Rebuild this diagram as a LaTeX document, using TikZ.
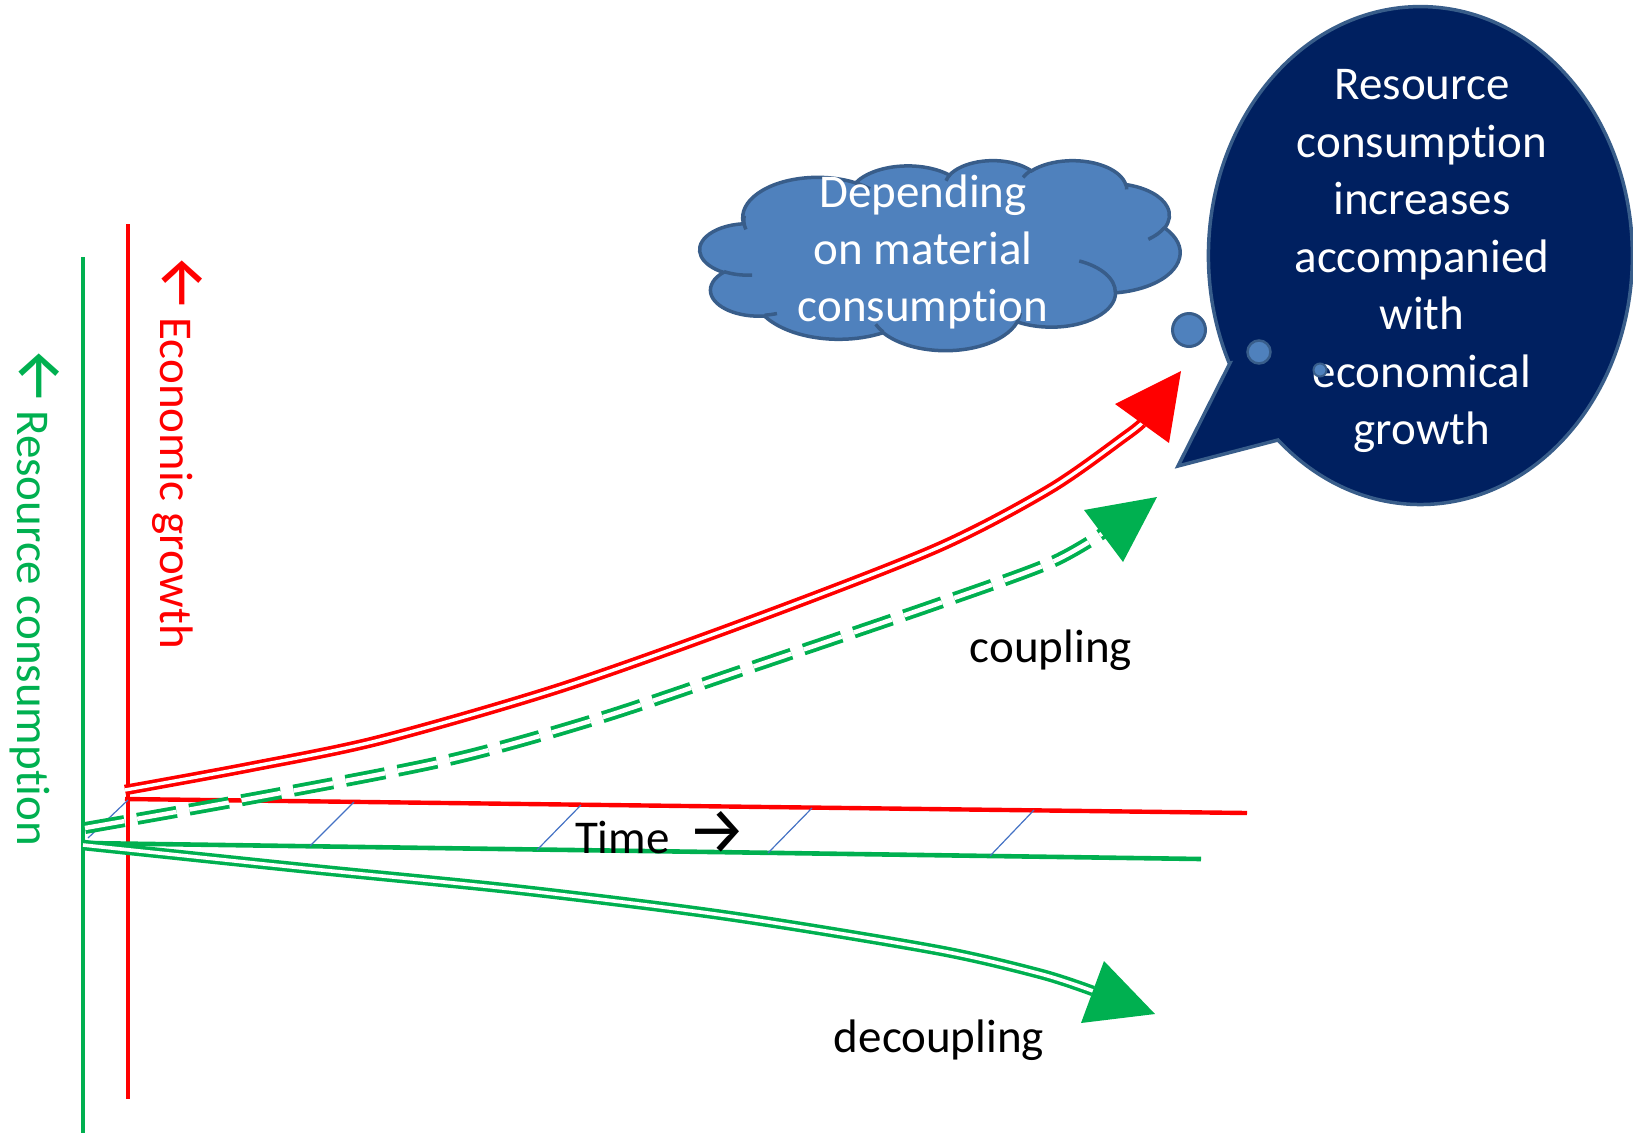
\documentclass[tikz,border=0pt]{standalone}
\usepackage{fontspec}
\setmainfont{Carlito}[Ligatures=NoCommon]
\newfontfamily\arrowfont{Fira Sans}
\definecolor{pptred}{HTML}{FF0000}
\definecolor{pptgreen}{HTML}{00B050}
\definecolor{hatchblue}{HTML}{4472C4}
\definecolor{cloudfill}{HTML}{4F81BD}
\definecolor{cloudline}{HTML}{385D8A}
\definecolor{navyfill}{HTML}{002060}

% Elliptical arc from the current point, given x/y radii and the
% visual start and sweep angles (degrees); converted to parametric angles.
\newcommand\ooarc[4]{%
  \pgfextra{%
    \pgfmathsetmacro\oaS{atan2((#1)*sin(#3),(#2)*cos(#3))}%
    \pgfmathsetmacro\oaT{atan2((#1)*sin((#3)+(#4)),(#2)*cos((#3)+(#4)))}%
    \pgfmathsetmacro\oaC{(\oaT)-(\oaS)-(#4)}%
    \pgfmathsetmacro\oaC{(\oaC)-360*round((\oaC)/360)}%
    \pgfmathsetmacro\oaE{(\oaS)+(#4)+(\oaC)}%
  }%
  arc[start angle=\oaS, end angle=\oaE, x radius=#1, y radius=#2]%
}
% arrow glyph, set a little larger than the words around it
\newcommand\bigarrow[1]{{\arrowfont\fontsize{66}{56}\selectfont #1}}

\begin{document}
\begin{tikzpicture}[x=1pt,y=-1pt,
  every node/.style={inner sep=0pt, outer sep=0pt},
  bigtext/.style={font=\fontsize{47}{56}\selectfont},
  axisline/.style={line width=4.2pt},
  hatch/.style={draw=hatchblue, line width=1.2pt},
  twin/.style={line width=3.6pt, double=white, double distance=3.4pt},
  cloudedge/.style={draw=cloudline, line width=3.5pt},
  thought/.style={circle, fill=cloudfill, draw=cloudline},
]
\useasboundingbox (0,0) rectangle (1633,1133);

% ---- axes ----
\coordinate (gtop) at (83,257);   \coordinate (gbot) at (83,1133);
\coordinate (rtop) at (128,224);  \coordinate (rbot) at (128,1099);
\coordinate (rh0) at (125,799);   \coordinate (rh1) at (1247,813);
\coordinate (gh0) at (83,843);    \coordinate (gh1) at (1201,859);

\draw[pptgreen, axisline] (gtop) -- (gbot);
\draw[pptred, axisline] (rtop) -- (rbot);
\draw[pptred, line width=4.4pt] (rh0) -- (rh1);
\draw[pptgreen, line width=4.6pt] (gh0) -- (gh1);

% thin ties between the two time lines
\foreach \xa/\ya/\xb/\yb in {88/838/128/800, 310/846/354/802, 537/850/581/805,
                             768/853/812/808, 990/856/1034/810}
  \draw[hatch] (\xa,\ya) -- (\xb,\yb);

% ---- trajectories ----
\coordinate (redstart) at (125,790);
\coordinate (redend) at (1142,423);
\coordinate (cplstart) at (85,828);
\coordinate (cplend) at (1103,533);
\coordinate (decstart) at (83,845);
\coordinate (decend) at (1093,991);

\draw[pptred, twin] plot[smooth, tension=0.5] coordinates
  {(redstart) (250,767) (380,740) (560,688) (752,620) (937,548)
   (1050,489) (1127,435) (redend)};

\draw[pptgreen, line width=3.8pt, double=white, double distance=4.4pt,
      dash pattern=on 40pt off 13pt] plot[smooth, tension=0.5] coordinates
  {(cplstart) (270,795) (453,759) (600,718) (752,667) (937,604)
   (1050,563) (cplend)};

\draw[pptgreen, line width=3.5pt, double=white, double distance=3.6pt]
  plot[smooth, tension=0.5] coordinates
  {(decstart) (312,869) (521,890) (729,916) (937,950) (1041,974) (decend)};

% arrow heads
\coordinate (redtip) at (1181,371); \coordinate (redl) at (1115,404); \coordinate (redr) at (1169,443);
\fill[pptred] (redtip) -- (redl) -- (redr) -- cycle;
\coordinate (cpltip) at (1157,497); \coordinate (cpll) at (1084,510); \coordinate (cplr) at (1123,562);
\fill[pptgreen] (cpltip) -- (cpll) -- (cplr) -- cycle;
\coordinate (dectip) at (1155,1014); \coordinate (decl) at (1104,961); \coordinate (decr) at (1081,1023);
\fill[pptgreen] (dectip) -- (decl) -- (decr) -- cycle;

% ---- labels ----
\node[bigtext, text=pptred, rotate=-90, anchor=base west] (econlbl) at (160,253)
  {\bigarrow{←}\hspace{5pt}Economic growth};
\node[bigtext, text=pptgreen, rotate=-90, anchor=base west] (reslbl) at (17,346)
  {\bigarrow{←}\hspace{5pt}Resource consumption};
\node[bigtext, anchor=base west] (timelbl) at (575,853)
  {Time\hspace{18pt}\bigarrow{→}};
\node[bigtext, anchor=base] (couplbl) at (1051,662) {coupling};
\node[bigtext, anchor=base] (decouplbl) at (939,1052) {decoupling};

% ---- thought cloud ----
\begin{scope}[shift={(700,160)}, x=1.1111pt, y=-0.4398pt]
  \path[fill=cloudfill, cloudedge] (39.00,143.70)
    \ooarc{67.53}{91.90}{-190.4875}{123.7805}
    \ooarc{53.33}{72.67}{-144.1024}{89.9452}
    \ooarc{43.65}{59.45}{-145.8079}{99.7230}
    \ooarc{48.57}{65.95}{-130.9861}{117.2417}
    \ooarc{53.33}{72.73}{-78.7089}{109.0269}
    \ooarc{67.75}{92.20}{-46.2673}{130.2690}
    \ooarc{57.85}{78.67}{0.6250}{114.0333}
    \ooarc{67.52}{92.15}{22.4516}{115.1726}
    \ooarc{77.20}{105.43}{66.2426}{75.7110}
    \ooarc{43.60}{59.18}{-274.9421}{146.7356}
    \ooarc{43.45}{59.45}{-246.8285}{152.5189}
    -- cycle;
  \draw[cloudedge]
    (46.93,261.77) \ooarc{43.45}{59.45}{86.7420}{26.4295}
    (69.28,348.99) \ooarc{43.60}{59.18}{73.6105}{11.4475}
    (164.78,390.90) \ooarc{67.52}{92.15}{137.6242}{14.0811}
    (288.27,347.51) \ooarc{67.52}{92.15}{6.4533}{15.9984}
    (341.29,229.54) \ooarc{57.85}{78.67}{-70.2924}{70.9174}
    (417.98,153.54) \ooarc{53.33}{72.73}{30.3180}{27.7515}
    (383.24,54.26) \ooarc{48.57}{65.95}{-13.7443}{14.8589}
    (290.78,39.52) \ooarc{48.57}{65.95}{-149.1815}{18.1954}
    (221.41,47.20) \ooarc{43.65}{59.45}{-163.4943}{17.8363}
    (140.00,51.92) \ooarc{67.53}{91.90}{-66.7070}{12.3194}
    (41.27,157.89) \ooarc{67.53}{91.90}{162.0352}{26.2996};
\end{scope}
\node[text=white, align=center, font=\fontsize{47}{57}\selectfont] (cloudtxt) at (923,252)
  {Depending\\on material\\consumption};

% ---- speech bubble ----
\coordinate (wedgetop) at (1230,363);
\coordinate (wedgetip) at (1178,466);
\coordinate (wedgelow) at (1278,440);
\path[fill=navyfill, draw=cloudline, line width=3.5pt, line join=miter]
  (wedgetop) -- (wedgetip) -- (wedgelow)
  arc[start angle=132.2, end angle=-205.6, x radius=212, y radius=249] -- cycle;
\node[text=white, align=center, font=\fontsize{47}{57.5}\selectfont] (bubbletxt) at (1422,261)
  {Resource\\consumption\\increases\\accompanied\\with\\economical\\growth};

% thought dots
\node[thought, line width=3pt, minimum size=33pt] (dotA) at (1189,330) {};
\node[thought, line width=2.5pt, minimum size=23pt] (dotB) at (1259,352) {};
\node[thought, line width=2pt, minimum size=13pt] (dotC) at (1320,370) {};
\end{tikzpicture}
\end{document}
